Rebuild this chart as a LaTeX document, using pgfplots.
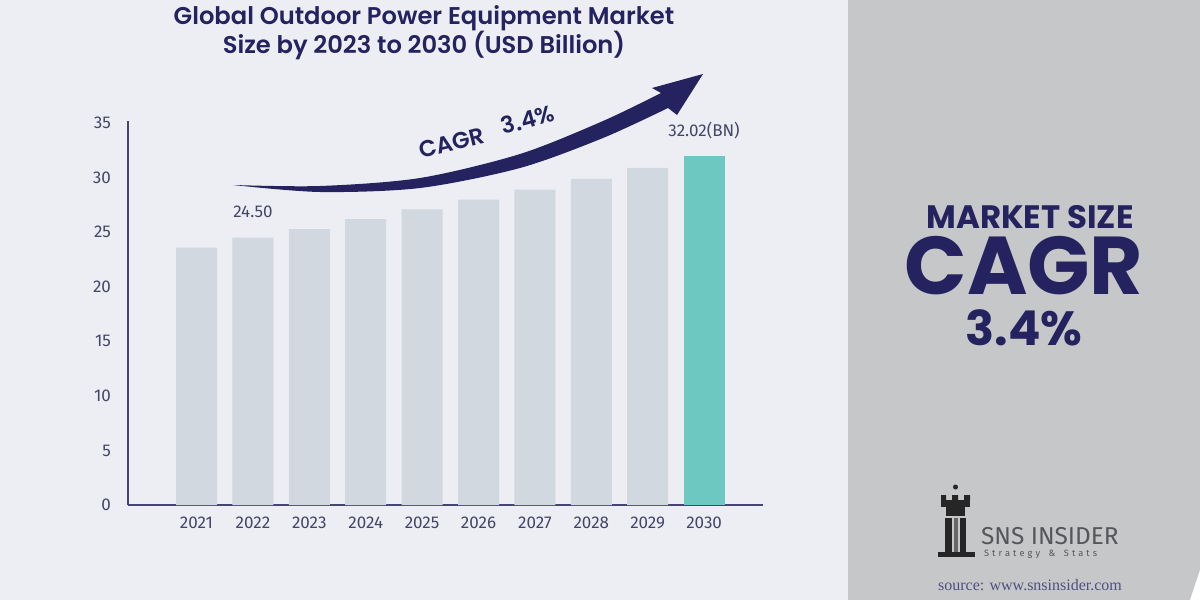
\documentclass[border=0pt]{standalone}
\usepackage{pgfplots}
\pgfplotsset{compat=1.18}
\usepackage{fontspec}
\setmainfont{Poppins}
\IfFontExistsTF{Poppins SemiBold}
  {\newfontfamily\popsemi{Poppins SemiBold}}
  {\newfontfamily\popsemi{Poppins}[FakeBold=1.2]}
\newfontfamily\fira{Fira Sans}
\newfontfamily\serifsrc{Liberation Serif}

\definecolor{bgc}{HTML}{ECEEF3}
\definecolor{panelc}{HTML}{C6C7C9}
\definecolor{barc}{HTML}{D1D8DF}
\definecolor{tealc}{HTML}{6CC8C1}
\definecolor{navy}{HTML}{25235F}
\definecolor{tickc}{HTML}{45456A}
\definecolor{logoc}{HTML}{55565A}

% box that holds only the capitals: cap height of Poppins is about 0.7 of the size
\tikzset{caps/.style={inner sep=0pt, text depth=0pt, text height=#1}}

\begin{document}
\begin{tikzpicture}
% background, drawn in pixel units (1px = 0.5pt, y downwards)
\begin{scope}[x=0.5pt,y=-0.5pt]
  \useasboundingbox (0,0) rectangle (1200,600);
  \fill[bgc] (0,0) rectangle (1200,600);
  \fill[panelc] (848,0) rectangle (1200,600);
  \fill[white] (1200,570) .. controls (1196,582) .. (1190,600) -- (1200,600) -- cycle;
  % title
  \node[navy, font=\popsemi\fontsize{12.1}{14.5}\selectfont, align=center] at (424,33)
    {Global Outdoor Power Equipment Market\\Size by 2023 to 2030 (USD Billion)};
  % right panel
  \node[navy, caps=11.3pt, font=\fontsize{16.2}{17}\selectfont\bfseries] at (1030,217) {MARKET SIZE};
  \node[navy, caps=28.7pt, font=\fontsize{41}{44}\selectfont\bfseries] at (1024,266) {CAGR};
  \node[navy, caps=16.8pt, font=\fontsize{24}{26}\selectfont\bfseries] at (1024,329) {3.4\%};
  % logo
  \fill[black!85] (941,500) rectangle (970,507);
  \fill[black!85] (941,495) rectangle (946,500) (952,495) rectangle (958,500) (964,495) rectangle (970,500);
  \fill[black!85] (955.5,487) circle (2.5);
  \fill[black!85] (946,507) rectangle (965,516);
  \fill[black!85] (945,518) rectangle (952,552);
  \fill[black!60] (954,518) rectangle (958,552);
  \fill[black!85] (960,518) rectangle (966,552);
  \fill[black!85] (938,552) rectangle (975,557);
  \node[logoc, anchor=west, font=\fira\fontsize{12.2}{13}\selectfont] at (974,536) {SNS INSIDER};
  \node[logoc, anchor=west, font=\fira\fontsize{4.6}{5}\selectfont] at (977,554) {S\,\,t\,\,r\,\,a\,\,t\,\,e\,\,g\,\,y\,\, \,\,\&\,\, \,\,S\,\,t\,\,a\,\,t\,\,s};
  \node[navy!80, inner sep=0pt, font=\serifsrc\fontsize{8}{9}\selectfont] at (1030,585) {source: www.snsinsider.com};
\end{scope}

\begin{axis}[
  at={(64pt,-252.5pt)}, anchor=south west,
  scale only axis, width=317.5pt, height=192pt,
  xmin=-1.2145, xmax=10.044, ymin=0, ymax=35.2,
  axis x line*=bottom, axis y line*=left,
  axis line style={color=navy!85, line width=1pt, -},
  xtick={0,...,9},
  xticklabels={2021,2022,2023,2024,2025,2026,2027,2028,2029,2030},
  ytick={0,5,...,35},
  major tick length=0pt,
  tick label style={font=\fira\fontsize{8.5}{10}\selectfont, text=tickc},
  xticklabel style={yshift=-2.5pt},
  yticklabel style={xshift=-5pt},
  /pgf/number format/assume math mode=true,
]
\addplot[ybar, bar width=20.5pt, bar shift=0pt, fill=barc, draw=none]
  coordinates {(0,23.6)(1,24.5)(2,25.3)(3,26.2)(4,27.1)(5,28.0)(6,28.9)(7,29.9)(8,30.9)};
\addplot[ybar, bar width=20.5pt, bar shift=0pt, fill=tealc, draw=none]
  coordinates {(9,32.02)};
\node[anchor=base, text=tickc, font=\fira\fontsize{8.5}{10}\selectfont, yshift=10pt] at (axis cs:1,24.5) {24.50};
\node[anchor=base, text=tickc, font=\fira\fontsize{8.5}{10}\selectfont, yshift=9.5pt] at (axis cs:9,32.02) {32.02(BN)};
\end{axis}

% CAGR arrow
\begin{scope}[x=0.5pt,y=-0.5pt]
  \fill[navy] (233,185) -- plot[smooth] coordinates {(233,185)(320,192)(420,188)(520,168)(603,138)(668,108)}
    -- (677,115) -- (703,74) -- (652,88) -- (661,93)
    -- plot[smooth] coordinates {(661,93)(603,121)(520,154)(420,178)(320,186)(233,185)} -- cycle;
  \node[navy, caps=8pt, rotate=14, font=\popsemi\fontsize{11.5}{13}\selectfont] at (452,143) {CAGR};
  \node[navy, caps=8pt, rotate=15, font=\popsemi\fontsize{11.5}{13}\selectfont] at (528,120) {3.4\%};
\end{scope}
\end{tikzpicture}
\end{document}
